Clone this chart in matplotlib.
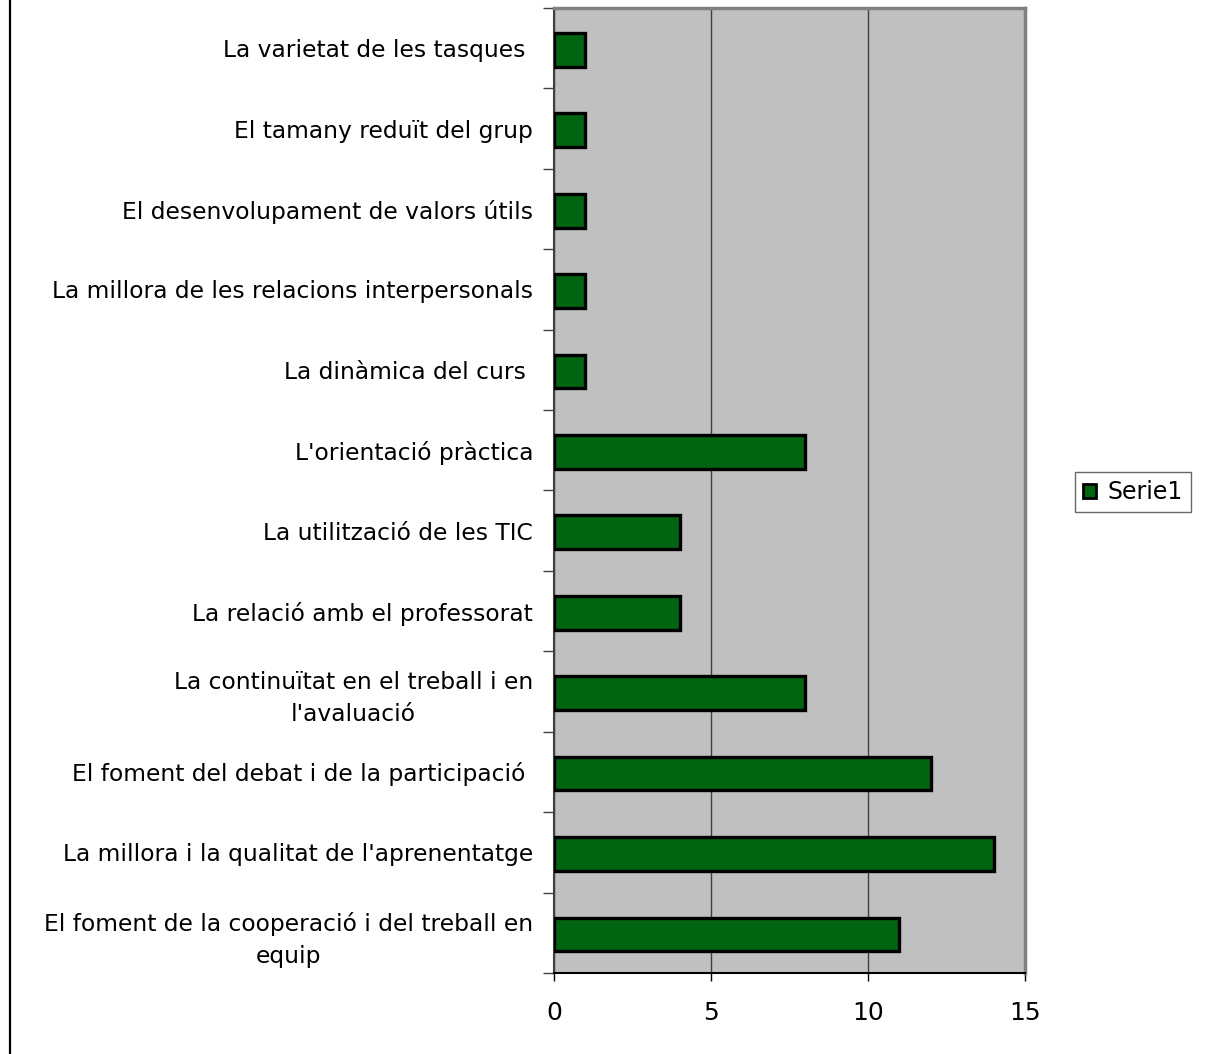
import matplotlib
matplotlib.use('Agg')
import matplotlib.pyplot as plt
from matplotlib.lines import Line2D
from matplotlib.patches import Patch
import numpy as np

# categories from top to bottom as they appear in the chart
categories = [
    "La varietat de les tasques ",
    "El tamany reduït del grup",
    "El desenvolupament de valors útils",
    "La millora de les relacions interpersonals",
    "La dinàmica del curs ",
    "L'orientació pràctica",
    "La utilització de les TIC",
    "La relació amb el professorat",
    "La continuïtat en el treball i en\nl'avaluació",
    "El foment del debat i de la participació ",
    "La millora i la qualitat de l'aprenentatge",
    "El foment de la cooperació i del treball en\nequip",
]
values = [1, 1, 1, 1, 1, 8, 4, 4, 8, 12, 14, 11]
series_name = "Serie1"
x_ticks = [0, 5, 10, 15]

BAR_COLOR = "#006411"
PLOT_BG = "#c0c0c0"

fig = plt.figure(figsize=(12.07, 10.54), dpi=100)
ax = fig.add_axes([554 / 1207, 1 - 973 / 1054, (1025 - 554) / 1207, (973 - 8) / 1054])
ax.set_facecolor(PLOT_BG)

n = len(categories)
ypos = np.arange(n)
ax.barh(ypos + 0.02, values, height=0.42, color=BAR_COLOR, edgecolor="black",
        linewidth=2.4, zorder=3)

ax.set_xlim(0, 15)
ax.set_ylim(n - 0.5, -0.5)

ax.set_xticks(x_ticks)
ax.set_xticklabels([str(t) for t in x_ticks], fontsize=18)
ax.tick_params(axis="x", direction="out", length=6, width=1, pad=14, color="black")

ax.set_yticks(ypos)
ax.set_yticklabels(categories, fontsize=16.8, multialignment="center", linespacing=1.5)
ax.set_yticks(np.arange(n + 1) - 0.5, minor=True)
ax.tick_params(axis="y", which="major", length=0, pad=15)
ax.tick_params(axis="y", which="minor", direction="out", length=8, width=1, color="#404040")

# vertical gridlines
ax.xaxis.grid(True, color="#404040", linewidth=1)
ax.set_axisbelow(True)

ax.spines["top"].set_color("#808080")
ax.spines["top"].set_linewidth(2.5)
ax.spines["right"].set_color("#808080")
ax.spines["right"].set_linewidth(2.5)
ax.spines["left"].set_color("#404040")
ax.spines["left"].set_linewidth(1.5)
ax.spines["bottom"].set_color("black")
ax.spines["bottom"].set_linewidth(1.5)

handle = Patch(facecolor=BAR_COLOR, edgecolor="black", linewidth=2)
leg = fig.legend([handle], [series_name], loc="center", bbox_to_anchor=(1133 / 1207, 1 - 492 / 1054),
                 fontsize=17, frameon=True, fancybox=False, handlelength=0.55, handleheight=0.55,
                 handletextpad=0.5, borderpad=0.35, borderaxespad=0)
leg.get_frame().set_edgecolor("#404040")
leg.get_frame().set_linewidth(1)

# chart area border on the left side
fig.add_artist(Line2D([10 / 1207, 10 / 1207], [0, 1], color="black", linewidth=1.6,
                      transform=fig.transFigure))

fig.savefig("out.png", dpi=100)
